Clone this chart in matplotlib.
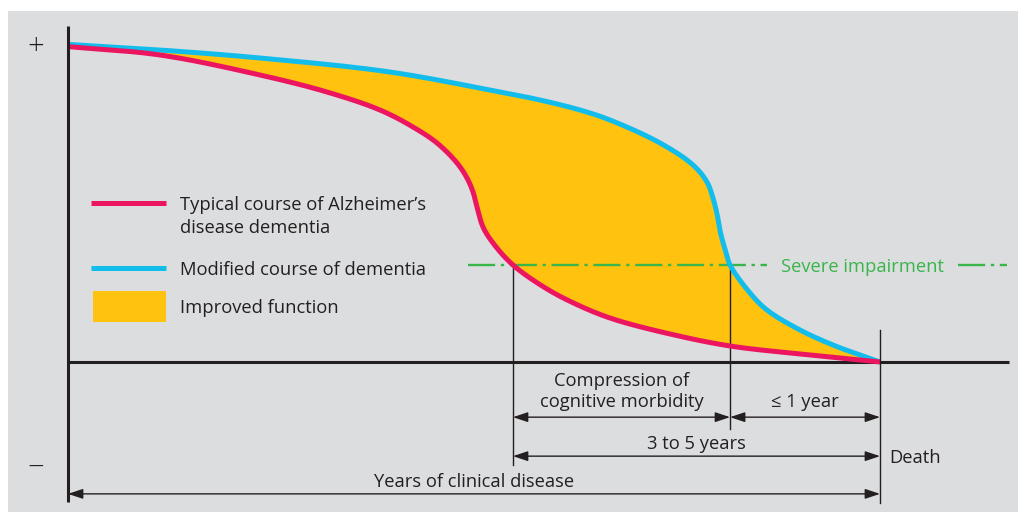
import numpy as np
import matplotlib
matplotlib.use("Agg")
import matplotlib.pyplot as plt
from matplotlib.patches import Rectangle, FancyArrowPatch

# ---------------- data (x: course of disease, 0 = onset, 100 = death; y: function) -------------
typical_x = [0, 11.33, 23.65, 31.90, 38.42, 42.49, 45.44, 47.91, 49.14, 49.88, 50.37, 51.11,
             52.34, 54.80, 58.99, 63.05, 67.12, 74.14, 81.53, 90.15, 100]
typical_y = [99.5, 96.85, 90.54, 85.17, 79.50, 74.13, 69.09, 62.78, 58.04, 53.63, 48.90, 42.59,
             37.54, 30.60, 23.03, 17.67, 13.56, 8.83, 5.05, 2.52, 0]
modified_x = [0, 11.33, 23.65, 39.66, 53.20, 58.13, 63.05, 66.75, 72.91, 76.97, 78.69, 79.43,
              79.93, 80.42, 81.03, 81.53, 83.99, 86.08, 90.15, 94.21, 97.54, 100]
modified_y = [100.2, 98.42, 95.90, 91.48, 85.17, 82.65, 79.50, 76.34, 69.09, 62.15, 56.78, 51.74,
              46.69, 40.06, 34.70, 30.60, 21.77, 16.40, 10.09, 5.36, 2.21, 0]
severe_threshold = 30.6
death_x = 100

legend_labels = ["Typical course of Alzheimer\u2019s", "disease dementia",
                 "Modified course of dementia", "Improved function"]
severe_label = "Severe impairment"
compression_label = ["Compression of", "cognitive morbidity"]
last_year_label = "\u2264 1 year"
span_label = "3 to 5 years"
death_label = "Death"
total_label = "Years of clinical disease"

# ---------------- style ----------------
RED = "#EC1660"
BLUE = "#12BDEC"
YELLOW = "#FEC20F"
GREEN = "#39B54A"
BG = "#DCDDDF"
INK = "#231F20"
FONT = "Open Sans"
FS = 13.2

plt.rcParams["font.family"] = [FONT, "DejaVu Sans"]

SX, SY = 8.12, 3.17  # pixels per data unit (for an even-looking curve)


def smooth(x, y, n=30):
    """Centripetal Catmull-Rom rendering through the read points (drawing only)."""
    P = np.column_stack([np.asarray(x) * SX, np.asarray(y) * SY]).astype(float)
    P = np.vstack([2 * P[0] - P[1], P, 2 * P[-1] - P[-2]])
    out = []
    for i in range(1, len(P) - 2):
        p0, p1, p2, p3 = P[i - 1], P[i], P[i + 1], P[i + 2]
        t0 = 0.0
        t1 = t0 + np.linalg.norm(p1 - p0) ** 0.5
        t2 = t1 + np.linalg.norm(p2 - p1) ** 0.5
        t3 = t2 + np.linalg.norm(p3 - p2) ** 0.5
        t = np.linspace(t1, t2, n, endpoint=False)[:, None]
        A1 = (t1 - t) / (t1 - t0) * p0 + (t - t0) / (t1 - t0) * p1
        A2 = (t2 - t) / (t2 - t1) * p1 + (t - t1) / (t2 - t1) * p2
        A3 = (t3 - t) / (t3 - t2) * p2 + (t - t2) / (t3 - t2) * p3
        B1 = (t2 - t) / (t2 - t0) * A1 + (t - t0) / (t2 - t0) * A2
        B2 = (t3 - t) / (t3 - t1) * A2 + (t - t1) / (t3 - t1) * A3
        out.append((t2 - t) / (t2 - t1) * B1 + (t - t1) / (t2 - t1) * B2)
    out.append(P[-2][None])
    s = np.vstack(out)
    return s[:, 0] / SX, s[:, 1] / SY


fig = plt.figure(figsize=(10.18, 5.12), dpi=100)
fig.patch.set_facecolor("white")
ax = fig.add_axes([0, 0, 1, 1])
ax.set_facecolor("none")
ax.set_xlim(-8.374, 116.995)
ax.set_ylim(-47.32, 114.20)
ax.axis("off")
ax.add_patch(Rectangle((8 / 1018, 0), 1, 501 / 512, transform=ax.transAxes,
                       facecolor=BG, edgecolor="none", zorder=-10))

rx, ry = smooth(typical_x, typical_y)
bx, by = smooth(modified_x, modified_y)

# improved function area
ax.fill(np.concatenate([bx, rx[::-1]]), np.concatenate([by, ry[::-1]]),
        color=YELLOW, lw=0, zorder=1)

# crossing points with the severe impairment level
x_red_cross = np.interp(severe_threshold, typical_y[::-1], typical_x[::-1])
x_blue_cross = np.interp(severe_threshold, modified_y[::-1], modified_x[::-1])

# axes
ax.plot([0, 0], [106, -44.2], color=INK, lw=2.2, solid_capstyle="butt", zorder=5)
ax.plot([0, 115.9], [0, 0], color=INK, lw=2.2, solid_capstyle="butt", zorder=2)
ax.text(-3.94, 99.4, "+", fontsize=21, color=INK, ha="center", va="center",
        fontweight="light")
ax.text(-3.94, -33.4, "\u2212", fontsize=21, color=INK, ha="center", va="center",
        fontweight="light")

# thin vertical markers
ax.plot([death_x, death_x], [10.1, -44.5], color=INK, lw=1.0, zorder=4)
ax.plot([x_red_cross, x_red_cross], [severe_threshold, -32.5], color=INK, lw=1.0, zorder=2.5)
ax.plot([x_blue_cross, x_blue_cross], [severe_threshold, -21.1], color=INK, lw=1.0, zorder=2.5)

# severe impairment line
dash = (0, (11.5, 2.4, 1.4, 2.4))
ax.plot([49.3, 86.1], [severe_threshold] * 2, color=GREEN, lw=1.7, linestyle=dash, zorder=3)
ax.plot([109.6, 115.6], [severe_threshold] * 2, color=GREEN, lw=1.7, linestyle=dash, zorder=3)
ax.text(87.8, 28.4, severe_label, color=GREEN, fontsize=FS, ha="left", va="baseline")

# curves
ax.plot(bx, by, color=BLUE, lw=3.6, solid_capstyle="butt", solid_joinstyle="round", zorder=3.5)
ax.plot(rx, ry, color=RED, lw=3.6, solid_capstyle="butt", solid_joinstyle="round", zorder=3.6)


def darrow(x0, x1, y, both=True):
    style = "<|-|>" if both else "-|>"
    a = FancyArrowPatch((x0, y), (x1, y), arrowstyle=style + ",head_length=0.9,head_width=0.3",
                        mutation_scale=10, shrinkA=0, shrinkB=0, color=INK, lw=1.0, zorder=4)
    ax.add_patch(a)


darrow(x_red_cross, x_blue_cross, -17.4)
darrow(x_blue_cross, death_x, -17.4)
darrow(x_red_cross, death_x, -29.7)
darrow(0, death_x, -41.6)

ax.text((x_red_cross + x_blue_cross) / 2, -7.6, compression_label[0], fontsize=FS, color=INK,
        ha="center", va="baseline")
ax.text((x_red_cross + x_blue_cross) / 2, -14.2, compression_label[1], fontsize=FS, color=INK,
        ha="center", va="baseline")
ax.text((x_blue_cross + death_x) / 2, -14.2, last_year_label, fontsize=FS, color=INK,
        ha="center", va="baseline")
ax.text((x_red_cross + death_x) / 2, -27.4, span_label, fontsize=FS, color=INK,
        ha="center", va="baseline")
ax.text(101.1, -31.9, death_label, fontsize=FS, color=INK, ha="left", va="baseline")
ax.text(death_x / 2, -39.4, total_label, fontsize=FS, color=INK, ha="center", va="baseline")

# legend
ax.plot([2.83, 12.07], [50.2, 50.2], color=RED, lw=3.6, solid_capstyle="butt")
ax.plot([2.83, 12.07], [29.7, 29.7], color=BLUE, lw=3.6, solid_capstyle="butt")
ax.add_patch(Rectangle((3.08, 12.6), 12.07 - 3.08, 22.4 - 12.6, facecolor=YELLOW, edgecolor="none"))
ax.text(13.8, 47.9, legend_labels[0], fontsize=FS, color=INK, ha="left", va="baseline")
ax.text(13.8, 40.7, legend_labels[1], fontsize=FS, color=INK, ha="left", va="baseline")
ax.text(13.8, 27.4, legend_labels[2], fontsize=FS, color=INK, ha="left", va="baseline")
ax.text(13.8, 15.5, legend_labels[3], fontsize=FS, color=INK, ha="left", va="baseline")

fig.savefig("out.png", dpi=100, facecolor=fig.get_facecolor())
